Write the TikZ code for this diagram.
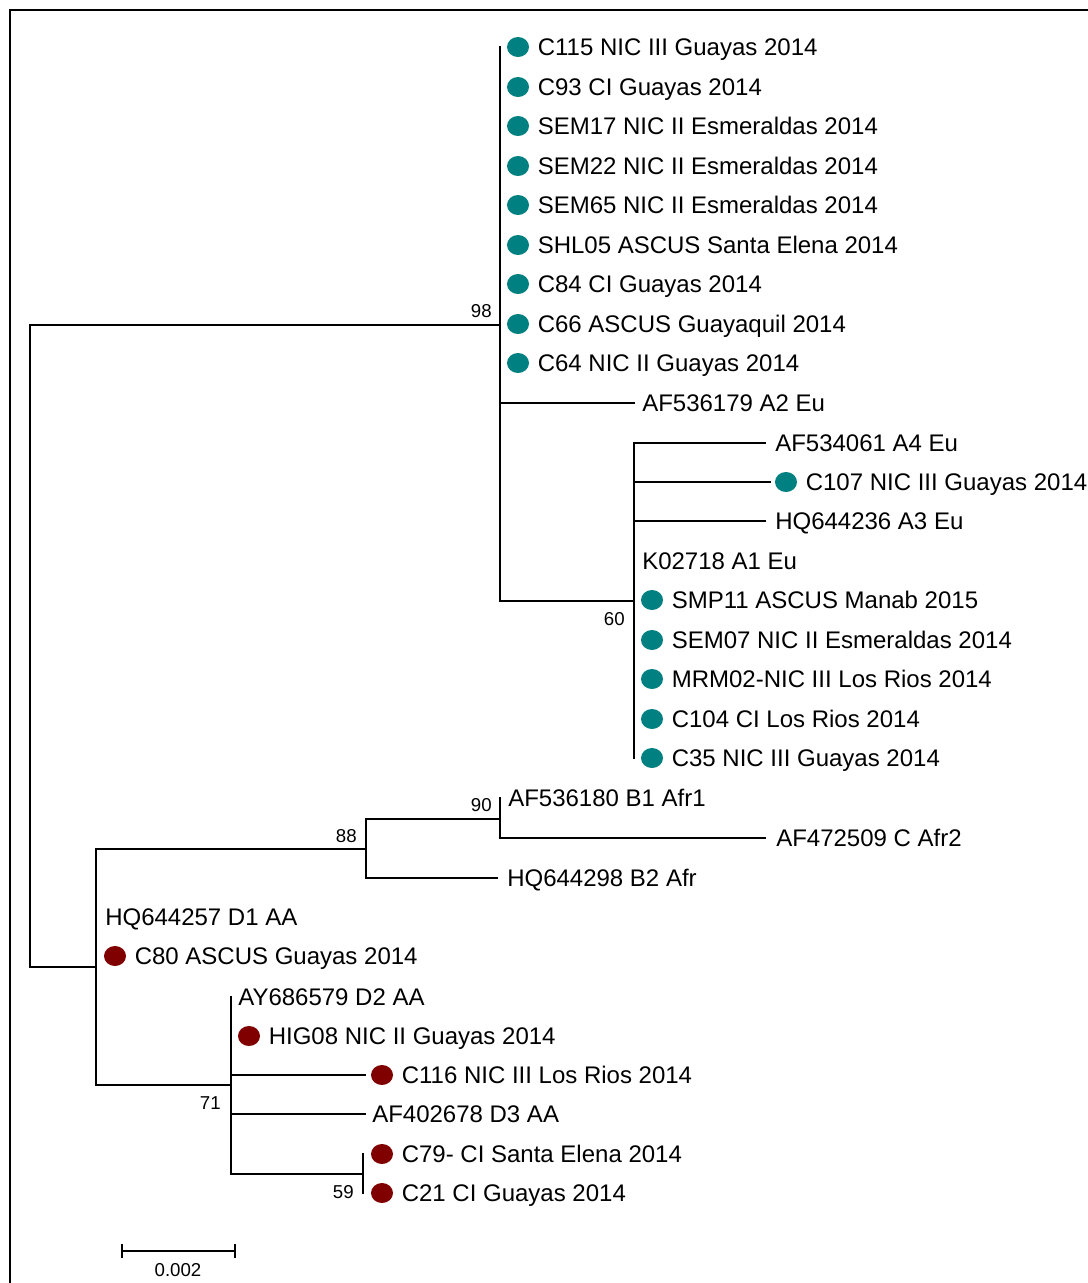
\documentclass[tikz,border=0pt]{standalone}
\usepackage{fontspec}
\setmainfont{Liberation Sans}
\usetikzlibrary{shapes.geometric}
\definecolor{tealdot}{RGB}{0,128,128}
\definecolor{reddot}{RGB}{128,0,0}
\newcommand\myleafdot[5]{% name, dot style, dot x, y, text
  \node[#2] (#1d) at (#3,#4) {};
  \node[lbl] (#1) at (#3+19.5,#4+8.5) {#5};}
\newcommand\myleaftxt[4]{% name, text x, y, text
  \node[lbl] (#1) at (#2,#3+8.5) {#4};}
\begin{document}
\begin{tikzpicture}[x=0.75pt,y=-0.75pt,
  br/.style={line width=1.2pt, line cap=rect},
  lbl/.style={font=\fontsize{18}{20}\selectfont, anchor=base west, inner sep=0pt},
  bsl/.style={font=\fontsize{14}{16}\selectfont, anchor=base east, inner sep=0pt},
  tdot/.style={ellipse, fill=tealdot, minimum width=16.5pt, minimum height=15pt, inner sep=0pt},
  rdot/.style={ellipse, fill=reddot, minimum width=16.5pt, minimum height=15pt, inner sep=0pt}]
\useasboundingbox (0,0) rectangle (1088,1283);
\clip (0,0) rectangle (1088,1283);
\fill[white] (0,0) rectangle (1088,1283);
% frame
\coordinate (fbl) at (10,1300);
\coordinate (ftl) at (10,10);
\coordinate (ftr) at (1100,10);
\draw[line width=2pt] (fbl) -- (ftl) -- (ftr);

% internal coordinates
\coordinate (rt) at (30,325);
\coordinate (rb) at (30,967);
\coordinate (A) at (500,325);
\coordinate (Atop) at (500,47);
\coordinate (Abot) at (500,601);
\coordinate (S) at (634,601);
\coordinate (Stop) at (634,443);
\coordinate (Sbot) at (634,758);
\coordinate (D) at (96,967);
\coordinate (Dtop) at (96,849);
\coordinate (Dbot) at (96,1085);
\coordinate (B) at (366,849);
\coordinate (Btop) at (366,819);
\coordinate (Bbot) at (366,878);
\coordinate (C) at (500,819);
\coordinate (Ctop) at (500,798);
\coordinate (Cbot) at (500,838);
\coordinate (E) at (231,1085);
\coordinate (Etop) at (231,997);
\coordinate (Ebot) at (231,1174);
\coordinate (F) at (363,1174);
\coordinate (Ftop) at (363,1154);
\coordinate (Fbot) at (363,1193);

% branches
\draw[br] (rt) -- (A);
\draw[br] (rt) -- (rb) -- (D);
\draw[br] (Atop) -- (Abot) -- (S);
\draw[br] (Stop) -- (Sbot);
\draw[br] (Dtop) -- (Dbot);
\draw[br] (Dtop) -- (B);
\draw[br] (Btop) -- (Bbot);
\draw[br] (Btop) -- (C);
\draw[br] (Ctop) -- (Cbot);
\draw[br] (Dbot) -- (E);
\draw[br] (Etop) -- (Ebot) -- (F);
\draw[br] (Ftop) -- (Fbot);

% leaf branch ends
\coordinate (eA2) at (634,403);
\coordinate (eA4) at (765,443);
\coordinate (eC107) at (770,482);
\coordinate (eA3) at (765,521);
\coordinate (eCA) at (765,838);
\coordinate (eB2) at (497,878);
\coordinate (eC116) at (365,1075);
\coordinate (eD3) at (365,1114);
\draw[br] (Atop |- eA2) -- (eA2);
\draw[br] (Stop |- eA4) -- (eA4);
\draw[br] (Stop |- eC107) -- (eC107);
\draw[br] (Stop |- eA3) -- (eA3);
\draw[br] (Ctop |- eCA) -- (eCA);
\draw[br] (Btop |- eB2) -- (eB2);
\draw[br] (Etop |- eC116) -- (eC116);
\draw[br] (Etop |- eD3) -- (eD3);

% clade A leaves
\myleafdot{l1}{tdot}{518}{47}{C115 NIC III Guayas 2014}
\myleafdot{l2}{tdot}{518}{87}{C93 CI Guayas 2014}
\myleafdot{l3}{tdot}{518}{126}{SEM17 NIC II Esmeraldas 2014}
\myleafdot{l4}{tdot}{518}{166}{SEM22 NIC II Esmeraldas 2014}
\myleafdot{l5}{tdot}{518}{205}{SEM65 NIC II Esmeraldas 2014}
\myleafdot{l6}{tdot}{518}{245}{SHL05 ASCUS Santa Elena 2014}
\myleafdot{l7}{tdot}{518}{284}{C84 CI Guayas 2014}
\myleafdot{l8}{tdot}{518}{324}{C66 ASCUS Guayaquil 2014}
\myleafdot{l9}{tdot}{518}{363}{C64 NIC II Guayas 2014}
\myleaftxt{l10}{642}{403}{AF536179 A2 Eu}
\myleaftxt{l11}{775}{443}{AF534061 A4 Eu}
\myleafdot{l12}{tdot}{786}{482}{C107 NIC III Guayas 2014}
\myleaftxt{l13}{775}{521}{HQ644236 A3 Eu}
\myleaftxt{l14}{642}{561}{K02718 A1 Eu}
\myleafdot{l15}{tdot}{652}{600}{SMP11 ASCUS Manab 2015}
\myleafdot{l16}{tdot}{652}{640}{SEM07 NIC II Esmeraldas 2014}
\myleafdot{l17}{tdot}{652}{679}{MRM02-NIC III Los Rios 2014}
\myleafdot{l18}{tdot}{652}{719}{C104 CI Los Rios 2014}
\myleafdot{l19}{tdot}{652}{758}{C35 NIC III Guayas 2014}
% clade B
\myleaftxt{l20}{508}{798}{AF536180 B1 Afr1}
\myleaftxt{l21}{776}{838}{AF472509 C Afr2}
\myleaftxt{l22}{507}{878}{HQ644298 B2 Afr}
% clade D
\myleaftxt{l23}{105}{917}{HQ644257 D1 AA}
\myleafdot{l24}{rdot}{115}{956}{C80 ASCUS Guayas 2014}
\myleaftxt{l25}{238}{997}{AY686579 D2 AA}
\myleafdot{l26}{rdot}{249}{1036}{HIG08 NIC II Guayas 2014}
\myleafdot{l27}{rdot}{382}{1075}{C116 NIC III Los Rios 2014}
\myleaftxt{l28}{372}{1114}{AF402678 D3 AA}
\myleafdot{l29}{rdot}{382}{1154}{C79- CI Santa Elena 2014}
\myleafdot{l30}{rdot}{382}{1193}{C21 CI Guayas 2014}

% bootstrap values
\node[bsl] (b98) at (492,317) {98};
\node[bsl] (b60) at (625,625) {60};
\node[bsl] (b90) at (492,811) {90};
\node[bsl] (b88) at (357,842) {88};
\node[bsl] (b71) at (221,1109) {71};
\node[bsl] (b59) at (354,1198) {59};

% scale bar
\coordinate (sl) at (122,1251);
\coordinate (sr) at (235,1251);
\draw[br] (sl) -- (sr);
\draw[br] ([yshift=4.5pt]sl) -- ([yshift=-4.5pt]sl);
\draw[br] ([yshift=4.5pt]sr) -- ([yshift=-4.5pt]sr);
\node[font=\fontsize{14}{16}\selectfont, anchor=base, inner sep=0pt] (sc) at (178,1276) {0.002};
\end{tikzpicture}
\end{document}
